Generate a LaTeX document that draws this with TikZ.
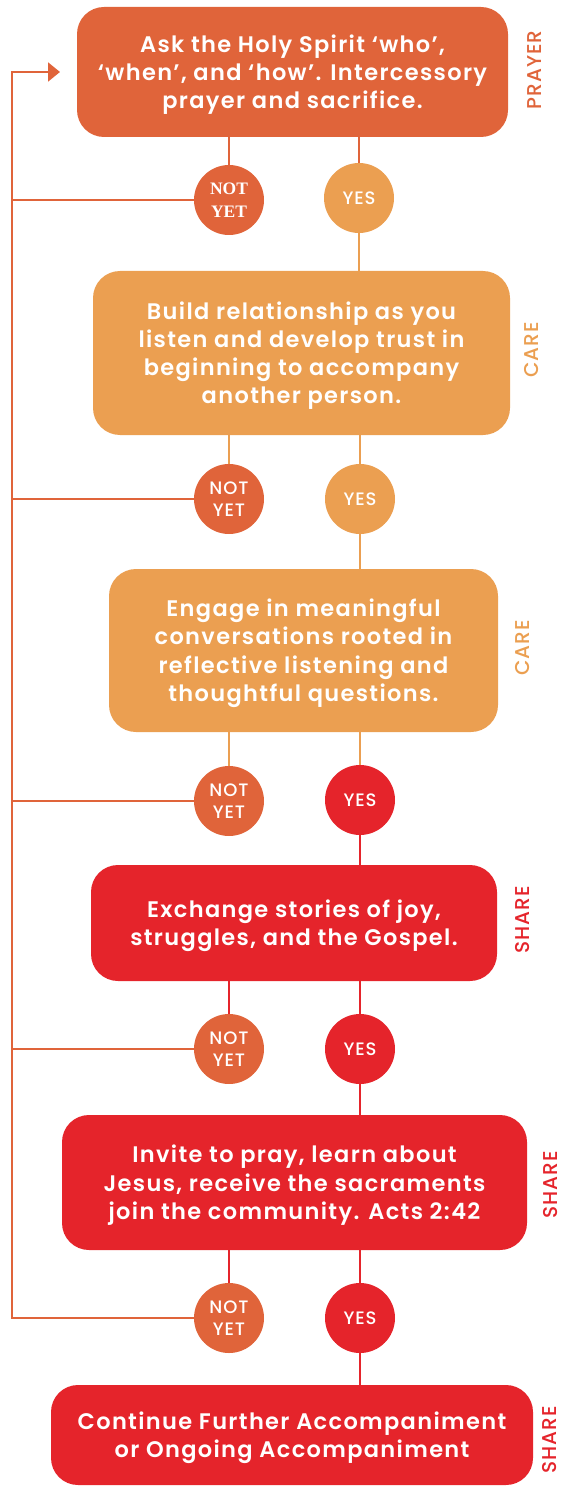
\documentclass[tikz,border=0pt]{standalone}
\usepackage{fontspec}
\setmainfont{Poppins}[BoldFont={Poppins SemiBold}, LetterSpace=6]
\newfontfamily\popmed{Poppins Medium}[LetterSpace=5]
\newfontfamily\serifnf{Liberation Serif}
\usetikzlibrary{backgrounds,arrows.meta}
\definecolor{dorange}{HTML}{E0643A}
\definecolor{lorange}{HTML}{EB9F51}
\definecolor{cred}{HTML}{E5242B}
\newcommand{\tstrut}{\rule{0pt}{23pt}}
\tikzset{
  box/.style={rectangle, rounded corners=27pt, text=white, align=center,
    font=\fontsize{22.5}{28.3}\selectfont\bfseries, inner sep=0pt},
  circ/.style={circle, minimum size=70pt, inner sep=0pt, text=white, align=center,
    font=\fontsize{18}{22.5}\selectfont\popmed},
  side/.style={rotate=90, inner sep=0pt, font=\fontsize{20}{22}\selectfont\popmed},
  conn/.style={line width=2pt},
}
\begin{document}
\begin{tikzpicture}[x=1pt,y=-1pt]
\useasboundingbox (0,0) rectangle (563,1487);
% boxes
\node[box, fill=dorange, minimum width=431pt, minimum height=130pt] (b1) at (292.5,72)
  {\tstrut Ask the Holy Spirit ‘who’,\\ ‘when’, and ‘how’. Intercessory\\ prayer and sacrifice.};
\node[box, fill=lorange, minimum width=417pt, minimum height=164pt] (b2) at (301.5,353)
  {\tstrut Build relationship as you\\ listen and develop trust in\\ beginning to accompany\\ another person.};
\node[box, fill=lorange, minimum width=389pt, minimum height=163pt] (b3) at (303.5,650.5)
  {\tstrut Engage in meaningful\\ conversations rooted in\\ reflective listening and\\ thoughtful questions.};
\node[box, fill=cred, minimum width=406pt, minimum height=116pt] (b4) at (294,923)
  {\tstrut Exchange stories of joy,\\ struggles, and the Gospel.};
\node[box, fill=cred, minimum width=465pt, minimum height=135pt] (b5) at (294.5,1182.5)
  {\tstrut Invite to pray, learn about\\ Jesus, receive the sacraments\\ join the community. Acts 2:42};
\node[box, fill=cred, minimum width=482pt, minimum height=100pt] (b6) at (292,1435)
  {\tstrut Continue Further Accompaniment\\ or Ongoing Accompaniment};
% side labels
\node[side, text=dorange] (s1) at (535,70) {PRAYER};
\node[side, text=lorange] (s2) at (532,350) {CARE};
\node[side, text=lorange] (s3) at (523,648) {CARE};
\node[side, text=cred] (s4) at (523,920) {SHARE};
\node[side, text=cred] (s5) at (551,1185) {SHARE};
\node[side, text=cred] (s6) at (550,1440) {SHARE};
% circles
\node[circ, fill=dorange, font=\fontsize{17.5}{23.5}\selectfont\serifnf\bfseries] (n1) at (229,200) {NOT\\YET};
\node[circ, fill=lorange] (y1) at (359,198) {YES};
\node[circ, fill=dorange] (n2) at (229,499) {NOT\\YET};
\node[circ, fill=lorange] (y2) at (360,499) {YES};
\node[circ, fill=dorange] (n3) at (229,801) {NOT\\YET};
\node[circ, fill=cred] (y3) at (360,800) {YES};
\node[circ, fill=dorange] (n4) at (229,1049) {NOT\\YET};
\node[circ, fill=cred] (y4) at (360,1049) {YES};
\node[circ, fill=dorange] (n5) at (229,1318) {NOT\\YET};
\node[circ, fill=cred] (y5) at (360,1318) {YES};
% loop coordinates
\coordinate (top) at (12,72);
\coordinate (tip) at (60,72);
\coordinate (l1) at (12,200);
\coordinate (l2) at (12,499);
\coordinate (l3) at (12,801);
\coordinate (l4) at (12,1049);
\coordinate (l5) at (12,1318);
\begin{scope}[on background layer]
  \draw[conn, dorange] (b1.south -| n1) -- (n1);
  \draw[conn, dorange] (b1.south -| y1) -- (y1);
  \draw[conn, lorange] (y1) -- (b2.north -| y1);
  \draw[conn, lorange] (b2.south -| n2) -- (n2);
  \draw[conn, lorange] (b2.south -| y2) -- (y2);
  \draw[conn, lorange] (y2) -- (b3.north -| y2);
  \draw[conn, lorange] (b3.south -| n3) -- (n3);
  \draw[conn, lorange] (b3.south -| y3) -- (y3);
  \draw[conn, cred] (y3) -- (b4.north -| y3);
  \draw[conn, cred] (b4.south -| n4) -- (n4);
  \draw[conn, cred] (b4.south -| y4) -- (y4);
  \draw[conn, cred] (y4) -- (b5.north -| y4);
  \draw[conn, cred] (b5.south -| n5) -- (n5);
  \draw[conn, cred] (b5.south -| y5) -- (y5);
  \draw[conn, cred] (y5) -- (b6.north -| y5);
  \draw[conn, dorange] (n1) -- (l1);
  \draw[conn, dorange] (n2) -- (l2);
  \draw[conn, dorange] (n3) -- (l3);
  \draw[conn, dorange] (n4) -- (l4);
  \draw[conn, dorange, -{Triangle[length=12pt,width=19pt]}] (n5) -- (l5) -- (top) -- (tip);
\end{scope}
\end{tikzpicture}
\end{document}
